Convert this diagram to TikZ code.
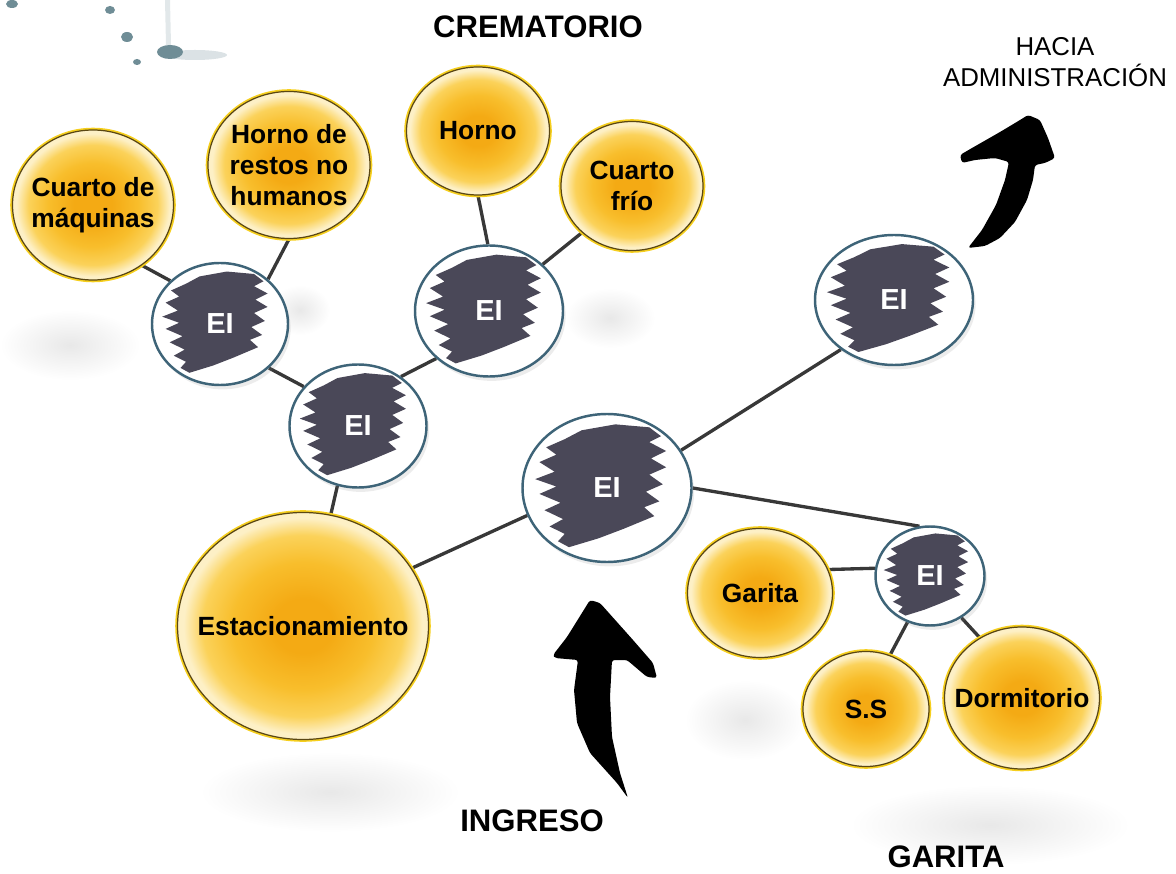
\documentclass[tikz,border=0pt]{standalone}
\usepackage{fontspec}
\setmainfont{Liberation Sans}
\usetikzlibrary{shapes.geometric, backgrounds, shadows}
\definecolor{InkGrey}{HTML}{4A4858}
\definecolor{HubRim}{HTML}{3E6478}
\definecolor{LinkGrey}{HTML}{383838}
\definecolor{WashCore}{HTML}{F4AA14}
\definecolor{WashMid}{HTML}{F8BE2C}
\definecolor{WashLight}{HTML}{FBD25A}
\definecolor{WashEdge}{HTML}{FDF0C6}
\definecolor{RimDark}{HTML}{5A4713}
\definecolor{RimGlow}{HTML}{F6CF1E}
\definecolor{SplashBlue}{HTML}{6F8D96}
\pgfdeclareradialshading{watercolor}{\pgfpoint{0bp}{0bp}}{color(0bp)=(WashCore); color(6bp)=(WashCore); color(14bp)=(WashMid); color(20bp)=(WashLight); color(23.8bp)=(WashEdge); color(25bp)=(WashEdge); color(50bp)=(WashEdge)}
% brush blot inside the EI bubbles, half axes in \inkw and \inkh
\newcommand{\inkblot}{(path picture bounding box.center)
  +(-0.30*\inkw,-0.78*\inkh) -- +(0.10*\inkw,-0.86*\inkh) -- +(0.50*\inkw,-0.82*\inkh) -- +(0.64*\inkw,-0.70*\inkh)
  -- +(0.50*\inkw,-0.62*\inkh) -- +(0.70*\inkw,-0.50*\inkh) -- +(0.52*\inkw,-0.40*\inkh) -- +(0.70*\inkw,-0.28*\inkh)
  -- +(0.50*\inkw,-0.18*\inkh) -- +(0.66*\inkw,-0.05*\inkh) -- +(0.46*\inkw,0.05*\inkh) -- +(0.62*\inkw,0.18*\inkh)
  -- +(0.44*\inkw,0.26*\inkh) -- +(0.56*\inkw,0.38*\inkh) -- +(0.20*\inkw,0.55*\inkh) -- +(-0.10*\inkw,0.68*\inkh)
  -- +(-0.45*\inkw,0.80*\inkh) -- +(-0.58*\inkw,0.72*\inkh) -- +(-0.50*\inkw,0.62*\inkh) -- +(-0.68*\inkw,0.52*\inkh)
  -- +(-0.52*\inkw,0.42*\inkh) -- +(-0.74*\inkw,0.30*\inkh) -- +(-0.55*\inkw,0.20*\inkh) -- +(-0.80*\inkw,0.08*\inkh)
  -- +(-0.60*\inkw,-0.02*\inkh) -- +(-0.85*\inkw,-0.12*\inkh) -- +(-0.62*\inkw,-0.22*\inkh) -- +(-0.80*\inkw,-0.35*\inkh)
  -- +(-0.60*\inkw,-0.45*\inkh) -- +(-0.72*\inkw,-0.55*\inkh) -- +(-0.50*\inkw,-0.66*\inkh) -- cycle}

\begin{document}
\begin{tikzpicture}[x=0.02cm, y=-0.02cm,
  room/.style 2 args={ellipse, minimum width=#1*0.02cm, minimum height=#2*0.02cm, inner sep=-15pt, align=center, shading=watercolor, draw=RimDark, line width=0.7pt, preaction={draw=RimGlow, line width=2.6pt}, font=\bfseries\fontsize{15}{17.5}\selectfont},
  hub/.style 2 args={ellipse, minimum width=#1*0.02cm, minimum height=#2*0.02cm, inner sep=0pt, fill=white, draw=HubRim, line width=1.4pt, drop shadow={opacity=0.15, shadow xshift=1.5pt, shadow yshift=-2.5pt}, text=white, font=\bfseries\fontsize{16.5}{19}\selectfont, path picture={\def\inkw{#1/2}\def\inkh{#2/2}\fill[InkGrey] \inkblot;}},
  link/.style={draw=LinkGrey, line width=1.9pt},
  heading/.style={font=\bfseries\fontsize{17.7}{21}\selectfont},
  smudge/.style={inner color=black!9, outer color=white}]
  \useasboundingbox (0,0) rectangle (1176,874);

  % ink splashes
  \fill[SplashBlue] (12,4) ellipse (6 and 4);
  \fill[SplashBlue] (110,10) ellipse (5 and 4);
  \fill[SplashBlue] (127,37) ellipse (6 and 5);
  \fill[SplashBlue] (137,62) ellipse (4 and 3);
  \fill[SplashBlue!20] (165,0) -- (170,0) -- (171,45) -- (166,45) -- cycle;
  \fill[SplashBlue!25] (195,55) ellipse (32 and 5);
  \fill[SplashBlue] (170,52) ellipse (13 and 7);

  \node (crematorio) [heading] at (538,27) {CREMATORIO};
  \node (admin) [align=center, font=\fontsize{14.7}{18}\selectfont] at (1055,62) {HACIA\\ADMINISTRACIÓN};
  \node (ingreso) [heading] at (532,821) {INGRESO};
  \node (garitalabel) [heading] at (946,857) {GARITA};

  \node (maq) [room={161}{150}] at (93,205) {Cuarto de\\máquinas};
  \node (restos) [room={162}{147}] at (289,165) {Horno de\\restos no\\humanos};
  \node (horno) [room={143}{128}] at (478,131) {Horno};
  \node (frio) [room={142}{129}] at (632,186) {Cuarto\\frío};
  \node (estac) [room={251}{227}] at (303,626) {Estacionamiento};
  \node (garita) [room={145}{129}] at (760,593) {Garita};
  \node (ss) [room={126}{115}] at (866,709) {S.S};
  \node (dorm) [room={155}{142}] at (1022,698) {Dormitorio};

  \node (eiA) [hub={136}{122}] at (220,324) {EI};
  \node (eiB) [hub={137}{123}] at (358,426) {EI};
  \node (eiC) [hub={148}{131}] at (489,311) {EI};
  \node (eiD) [hub={169}{148}] at (607,488) {EI};
  \node (eiE) [hub={158}{130}] at (894,300) {EI};
  \node (eiF) [hub={109}{99}] at (930,576) {EI};

  \begin{scope}[on background layer]
    \shade[smudge] (70,345) ellipse (70 and 35);
    \shade[smudge] (300,310) ellipse (30 and 25);
    \shade[smudge] (610,318) ellipse (45 and 30);
    \shade[smudge] (330,792) ellipse (130 and 40);
    \shade[smudge] (745,720) ellipse (60 and 40);
    \shade[smudge] (990,825) ellipse (140 and 40);

    \draw[link] (maq.-51) -- (eiA.139);
    \draw[link] (restos.-90) -- (eiA.43);
    \draw[link] (eiA.-42) -- (eiB.144);
    \draw[link] (horno.-90) -- (eiC.91);
    \draw[link] (frio.-137) -- (eiC.41);
    \draw[link] (eiB.49) -- (eiC.-138);
    \draw[link] (eiB.-109) -- (estac.76);
    \draw[link] (estac.28) -- (eiD.-161);
    \draw[link] (eiD.27) -- (eiE.-137);
    \draw[link] (eiD.0) -- (eiF.102);
    \draw[link] (garita.19) -- (eiF.172);
    \draw[link] (eiF.-116) -- (ss.66);
    \draw[link] (eiF.-53) -- (dorm.125);
  \end{scope}

  % brush arrows
  \fill[black, rounded corners=1.5pt] (628,798) -- (617,783) -- (590,753) -- (577,723) -- (574,690) -- (578,660)
    -- (555,658) -- (553,655) -- (567,637) -- (590,600) -- (600,603) -- (633,640) -- (653,663) -- (657,678)
    -- (647,677) -- (627,660) -- (612,660) -- (610,697) -- (612,737) -- (620,773) -- cycle;
  \fill[black, rounded corners=1.5pt] (968,248) -- (982,230) -- (996,205) -- (1005,180) -- (1009,162)
    -- (995,158) -- (975,160) -- (962,163) -- (960,155) -- (972,148) -- (1000,132) -- (1020,120) -- (1028,115)
    -- (1040,120) -- (1048,138) -- (1055,158) -- (1045,163) -- (1035,165) -- (1033,180) -- (1027,200)
    -- (1015,222) -- (1000,238) -- (985,246) -- cycle;
\end{tikzpicture}
\end{document}
